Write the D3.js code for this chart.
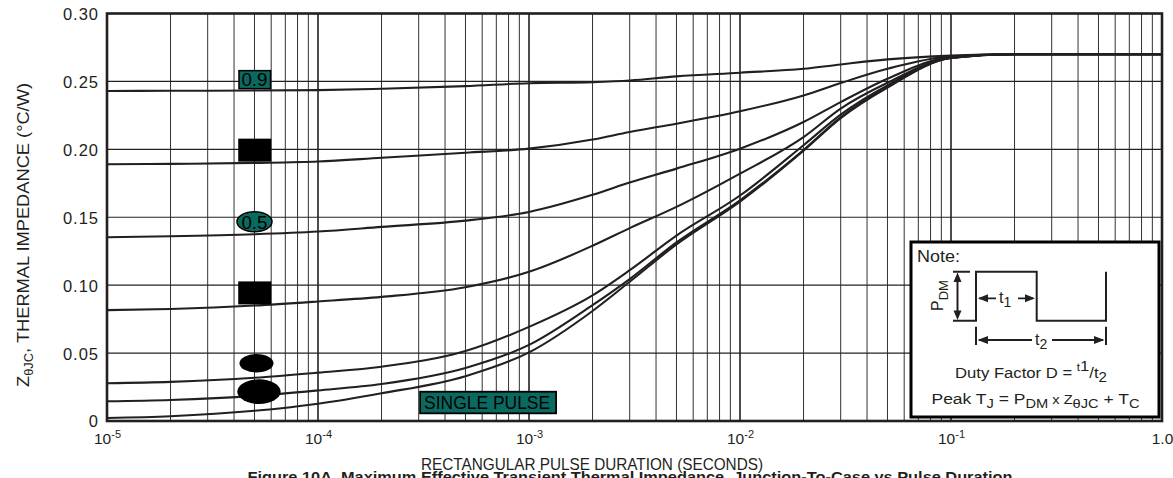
<!DOCTYPE html>
<html>
<head>
<meta charset="utf-8">
<script src="https://cdn.jsdelivr.net/npm/d3@7"></script>
<style>
  html, body { margin: 0; padding: 0; background: #fff; }
  svg { display: block; font-family: "Liberation Sans", Arial, Helvetica, sans-serif; }
</style>
</head>
<body>
<svg id="chart" width="1173" height="478"></svg>
<script>
// ---------- DATA ----------
const durations = [1e-5, 2e-5, 5e-5, 1e-4, 2e-4, 5e-4, 1e-3, 2e-3, 3e-3, 5e-3, 1e-2, 2e-2, 3e-2, 5e-2, 1e-1, 2e-1, 1];
const d09    = [0.2430,0.2431,0.2433,0.2436,0.2446,0.2465,0.2487,0.2495,0.2507,0.2537,0.2564,0.2593,0.2625,0.2662,0.2690,0.2700,0.2700];
const d07    = [0.1890,0.1893,0.1900,0.1910,0.1938,0.1975,0.2005,0.2072,0.2128,0.2189,0.2280,0.2397,0.2488,0.2593,0.2685,0.2700,0.2700];
const d05    = [0.1353,0.1360,0.1375,0.1395,0.1429,0.1475,0.1539,0.1665,0.1755,0.1858,0.2005,0.2201,0.2348,0.2520,0.2680,0.2700,0.2700];
const d03    = [0.0816,0.0825,0.0850,0.0880,0.0914,0.0985,0.1098,0.1290,0.1420,0.1576,0.1821,0.2090,0.2300,0.2490,0.2675,0.2700,0.2700];
const d01    = [0.0278,0.0288,0.0318,0.0356,0.0400,0.0515,0.0693,0.0925,0.1110,0.1365,0.1660,0.2030,0.2255,0.2470,0.2675,0.2700,0.2700];
const d005   = [0.0145,0.0155,0.0185,0.0225,0.0272,0.0390,0.0560,0.0853,0.1045,0.1315,0.1625,0.1995,0.2235,0.2460,0.2672,0.2700,0.2700];
const single = [0.0022,0.0035,0.0075,0.0127,0.0204,0.0330,0.0505,0.0810,0.1025,0.1300,0.1615,0.1990,0.2230,0.2455,0.2672,0.2700,0.2700];
const seriesList = [d09, d07, d05, d03, d01, d005, single];

const yTicks = [0, 0.05, 0.10, 0.15, 0.20, 0.25, 0.30];
const yTickLabels = ["0", "0.05", "0.10", "0.15", "0.20", "0.25", "0.30"];
const xTicks = [1e-5, 1e-4, 1e-3, 1e-2, 1e-1, 1];
const xTickExps = ["-5", "-4", "-3", "-2", "-1", null];

// Duty-cycle labels (text, shape, level of the label on the y scale)
const labelTexts  = ["0.9", "", "0.5", "", "", ""];
const labelShapes = ["tealRect", "blackRect", "tealEllipse", "blackRect", "blackEllipse", "blackEllipseBig"];
const labelLevels = [0.2513, 0.1994, 0.1467, 0.0943, 0.0425, 0.0216];
const labelDuration = 5e-5;
const singleLabel = "SINGLE PULSE";
const singleDuration = 6.4e-4;
const singleLevel = 0.0136;

// ---------- SCALES ----------
const svg = d3.select("#chart");
const pLeft = 107, pRight = 1162, pTop = 13.5, pBottom = 421;
const x = d3.scaleLog().domain([1e-5, 1]).range([pLeft, pRight]);
const y = d3.scaleLinear().domain([0, 0.30]).range([pBottom, pTop]);
const ink = "#231f20";
const teal = "#0b6a60";

// ---------- GRID ----------
const minorTicks = [];
for (let e = -5; e < 0; e++) for (let m = 2; m <= 9; m++) minorTicks.push(m * Math.pow(10, e));
svg.append("g").selectAll("line").data(minorTicks).join("line")
  .attr("x1", d => x(d)).attr("x2", d => x(d))
  .attr("y1", pTop).attr("y2", pBottom)
  .attr("stroke", "#333").attr("stroke-width", 1);
svg.append("g").selectAll("line").data(xTicks.slice(1, -1)).join("line")
  .attr("x1", d => x(d)).attr("x2", d => x(d))
  .attr("y1", pTop).attr("y2", pBottom)
  .attr("stroke", ink).attr("stroke-width", 1.6);
svg.append("g").selectAll("line").data(yTicks.slice(1, -1)).join("line")
  .attr("x1", pLeft).attr("x2", pRight)
  .attr("y1", d => y(d)).attr("y2", d => y(d))
  .attr("stroke", "#222").attr("stroke-width", 1.2);

// ---------- CURVES ----------
const line = d3.line()
  .x((d, i) => x(durations[i]))
  .y(d => y(d))
  .curve(d3.curveMonotoneX);
svg.append("g").selectAll("path").data(seriesList).join("path")
  .attr("d", d => line(d))
  .attr("fill", "none").attr("stroke", ink).attr("stroke-width", 2.1);

// ---------- FRAME ----------
svg.append("rect")
  .attr("x", pLeft).attr("y", pTop)
  .attr("width", pRight - pLeft).attr("height", pBottom - pTop)
  .attr("fill", "none").attr("stroke", ink).attr("stroke-width", 2.6);

// ---------- AXIS LABELS ----------
const yAxis = d3.axisLeft(y).tickValues(yTicks).tickSize(0)
  .tickFormat((d, i) => yTickLabels[i]);
const gy = svg.append("g").attr("transform", `translate(${pLeft},0)`).call(yAxis);
gy.select(".domain").remove();
gy.selectAll("text")
  .attr("x", -8).attr("dy", "0.36em")
  .attr("font-family", "Liberation Sans, Arial, sans-serif")
  .attr("font-size", 16.5).attr("letter-spacing", 1)
  .attr("fill", ink);

const xAxis = d3.axisBottom(x).tickValues(xTicks).tickSize(0).tickFormat("");
const gx = svg.append("g").attr("transform", `translate(0,${pBottom})`).call(xAxis);
gx.select(".domain").remove();
gx.selectAll(".tick").each(function (d, i) {
  const t = d3.select(this).append("text")
    .attr("y", 23).attr("text-anchor", "middle")
    .attr("font-size", 15.5).attr("fill", ink)
    .attr("font-family", "Liberation Sans, Arial, sans-serif");
  if (xTickExps[i] === null) {
    t.text("1.0");
  } else {
    t.append("tspan").text("10");
    t.append("tspan").attr("font-size", 11).attr("dy", -6).text(xTickExps[i]);
  }
});

svg.append("text")
  .attr("x", 592).attr("y", 469.5).attr("text-anchor", "middle")
  .attr("font-size", 17).attr("fill", ink)
  .attr("textLength", 342).attr("lengthAdjust", "spacingAndGlyphs")
  .text("RECTANGULAR PULSE DURATION (SECONDS)");

const yl = svg.append("text")
  .attr("transform", "translate(29,235) rotate(-90)")
  .attr("text-anchor", "middle").attr("font-size", 17).attr("fill", ink)
  .attr("textLength", 304).attr("lengthAdjust", "spacingAndGlyphs");
yl.append("tspan").text("Z");
yl.append("tspan").attr("font-size", 12).attr("dy", 4).text("θJC");
yl.append("tspan").attr("dy", -4).text(", THERMAL IMPEDANCE (°C/W)");

svg.append("text")
  .attr("x", 630).attr("y", 481.5).attr("text-anchor", "middle")
  .attr("font-size", 14).attr("font-weight", "bold").attr("fill", ink)
  .attr("textLength", 765).attr("lengthAdjust", "spacingAndGlyphs")
  .text("Figure 10A. Maximum Effective Transient Thermal Impedance, Junction-To-Case vs Pulse Duration");

// ---------- DUTY LABELS ----------
const lg = svg.append("g");
labelShapes.forEach((shape, i) => {
  const cx = x(labelDuration), cy = y(labelLevels[i]);
  if (shape === "tealRect" || shape === "blackRect") {
    const h = shape === "tealRect" ? 18 : 21.5;
    lg.append("rect").attr("x", cx - 15.5).attr("y", cy - h / 2)
      .attr("width", 31.5).attr("height", h)
      .attr("fill", shape === "tealRect" ? teal : "#000")
      .attr("stroke", "#000").attr("stroke-width", 1.5);
  } else if (shape === "tealEllipse") {
    lg.append("ellipse").attr("cx", cx).attr("cy", cy).attr("rx", 17.5).attr("ry", 10)
      .attr("fill", teal).attr("stroke", "#000").attr("stroke-width", 1.5);
  } else if (shape === "blackEllipse") {
    lg.append("ellipse").attr("cx", cx + 2).attr("cy", cy).attr("rx", 17).attr("ry", 9.3)
      .attr("fill", "#000");
  } else {
    lg.append("ellipse").attr("cx", cx + 4.5).attr("cy", cy).attr("rx", 21.7).attr("ry", 12.3)
      .attr("fill", "#000");
  }
  if (labelTexts[i]) {
    lg.append("text").attr("x", cx).attr("y", cy).attr("dy", "0.36em")
      .attr("text-anchor", "middle").attr("font-size", 19).attr("fill", "#000")
      .attr("textLength", 26).attr("lengthAdjust", "spacingAndGlyphs")
      .text(labelTexts[i]);
  }
});
{
  const cx = x(singleDuration), cy = y(singleLevel);
  lg.append("rect").attr("x", cx - 68).attr("y", cy - 10.8).attr("width", 136).attr("height", 21.6)
    .attr("fill", teal).attr("stroke", "#000").attr("stroke-width", 1.8);
  lg.append("text").attr("x", cx - 1).attr("y", cy).attr("dy", "0.36em")
    .attr("text-anchor", "middle").attr("font-size", 19).attr("fill", "#000")
    .attr("textLength", 126).attr("lengthAdjust", "spacingAndGlyphs")
    .text(singleLabel);
}

// ---------- NOTE BOX ----------
const ng = svg.append("g");
ng.append("rect").attr("x", 911).attr("y", 242).attr("width", 248).attr("height", 175)
  .attr("fill", "#fff").attr("stroke", "#000").attr("stroke-width", 3);
ng.append("text").attr("x", 917).attr("y", 262).attr("font-size", 17).attr("fill", ink)
  .attr("textLength", 43).attr("lengthAdjust", "spacingAndGlyphs").text("Note:");

// waveform
ng.append("path")
  .attr("d", "M953,320.7 H976 V271.7 H1036.7 V320.7 H1106 V271.7 M953,271.7 H970")
  .attr("fill", "none").attr("stroke", ink).attr("stroke-width", 2);
// PDM double arrow
ng.append("line").attr("x1", 957.5).attr("x2", 957.5).attr("y1", 277).attr("y2", 315)
  .attr("stroke", ink).attr("stroke-width", 2);
ng.append("path").attr("d", "M957.5,272.5 L953.5,282 L961.5,282 Z M957.5,320 L953.5,310.5 L961.5,310.5 Z").attr("fill", ink);
const pdm = ng.append("text").attr("transform", "translate(943,311) rotate(-90)")
  .attr("font-size", 16).attr("fill", ink);
pdm.append("tspan").text("P");
pdm.append("tspan").attr("font-size", 13).attr("dy", 5).text("DM");

// t1 arrow
ng.append("path").attr("d", "M979,298.3 H996 M1018,298.3 H1033").attr("stroke", ink).attr("stroke-width", 1.8);
ng.append("path").attr("d", "M978,298.3 L988,294.3 L988,302.3 Z M1035,298.3 L1025,294.3 L1025,302.3 Z").attr("fill", ink);
const t1 = ng.append("text").attr("x", 999).attr("y", 302.5).attr("font-size", 16).attr("fill", ink);
t1.append("tspan").text("t");
t1.append("tspan").attr("font-size", 14).attr("dy", 4).text("1");

// t2 arrow
ng.append("path").attr("d", "M976,326.7 V345 M1106,326.7 V345").attr("stroke", ink).attr("stroke-width", 2);
ng.append("path").attr("d", "M979,340 H1032 M1052,340 H1103").attr("stroke", ink).attr("stroke-width", 1.8);
ng.append("path").attr("d", "M977.5,340 L988,336 L988,344 Z M1104.5,340 L1094,336 L1094,344 Z").attr("fill", ink);
const t2 = ng.append("text").attr("x", 1035).attr("y", 344.5).attr("font-size", 16).attr("fill", ink);
t2.append("tspan").text("t");
t2.append("tspan").attr("font-size", 14).attr("dy", 4).text("2");

// duty factor
const df = ng.append("text").attr("x", 955).attr("y", 378).attr("font-size", 15.5).attr("fill", ink)
  .attr("textLength", 152).attr("lengthAdjust", "spacingAndGlyphs");
df.append("tspan").text("Duty Factor  D = ");
df.append("tspan").attr("font-size", 11).attr("dy", -7).text("t");
df.append("tspan").attr("font-size", 15.5).text("1");
df.append("tspan").attr("dy", 7).text("/");
df.append("tspan").text("t");
df.append("tspan").attr("font-size", 14).attr("dy", 4).text("2");

// peak TJ
const pk = ng.append("text").attr("x", 931.5).attr("y", 404).attr("font-size", 15.5).attr("fill", ink)
  .attr("textLength", 208).attr("lengthAdjust", "spacingAndGlyphs");
pk.append("tspan").text("Peak T");
pk.append("tspan").attr("font-size", 13).attr("dy", 4).text("J");
pk.append("tspan").attr("dy", -4).text(" = P");
pk.append("tspan").attr("font-size", 13).attr("dy", 4).text("DM");
pk.append("tspan").attr("dy", -4).attr("font-size", 13).text(" x Z");
pk.append("tspan").attr("font-size", 13).attr("dy", 4).text("θJC");
pk.append("tspan").attr("dy", -4).text(" + T");
pk.append("tspan").attr("font-size", 13).attr("dy", 4).text("C");
</script>
</body>
</html>
